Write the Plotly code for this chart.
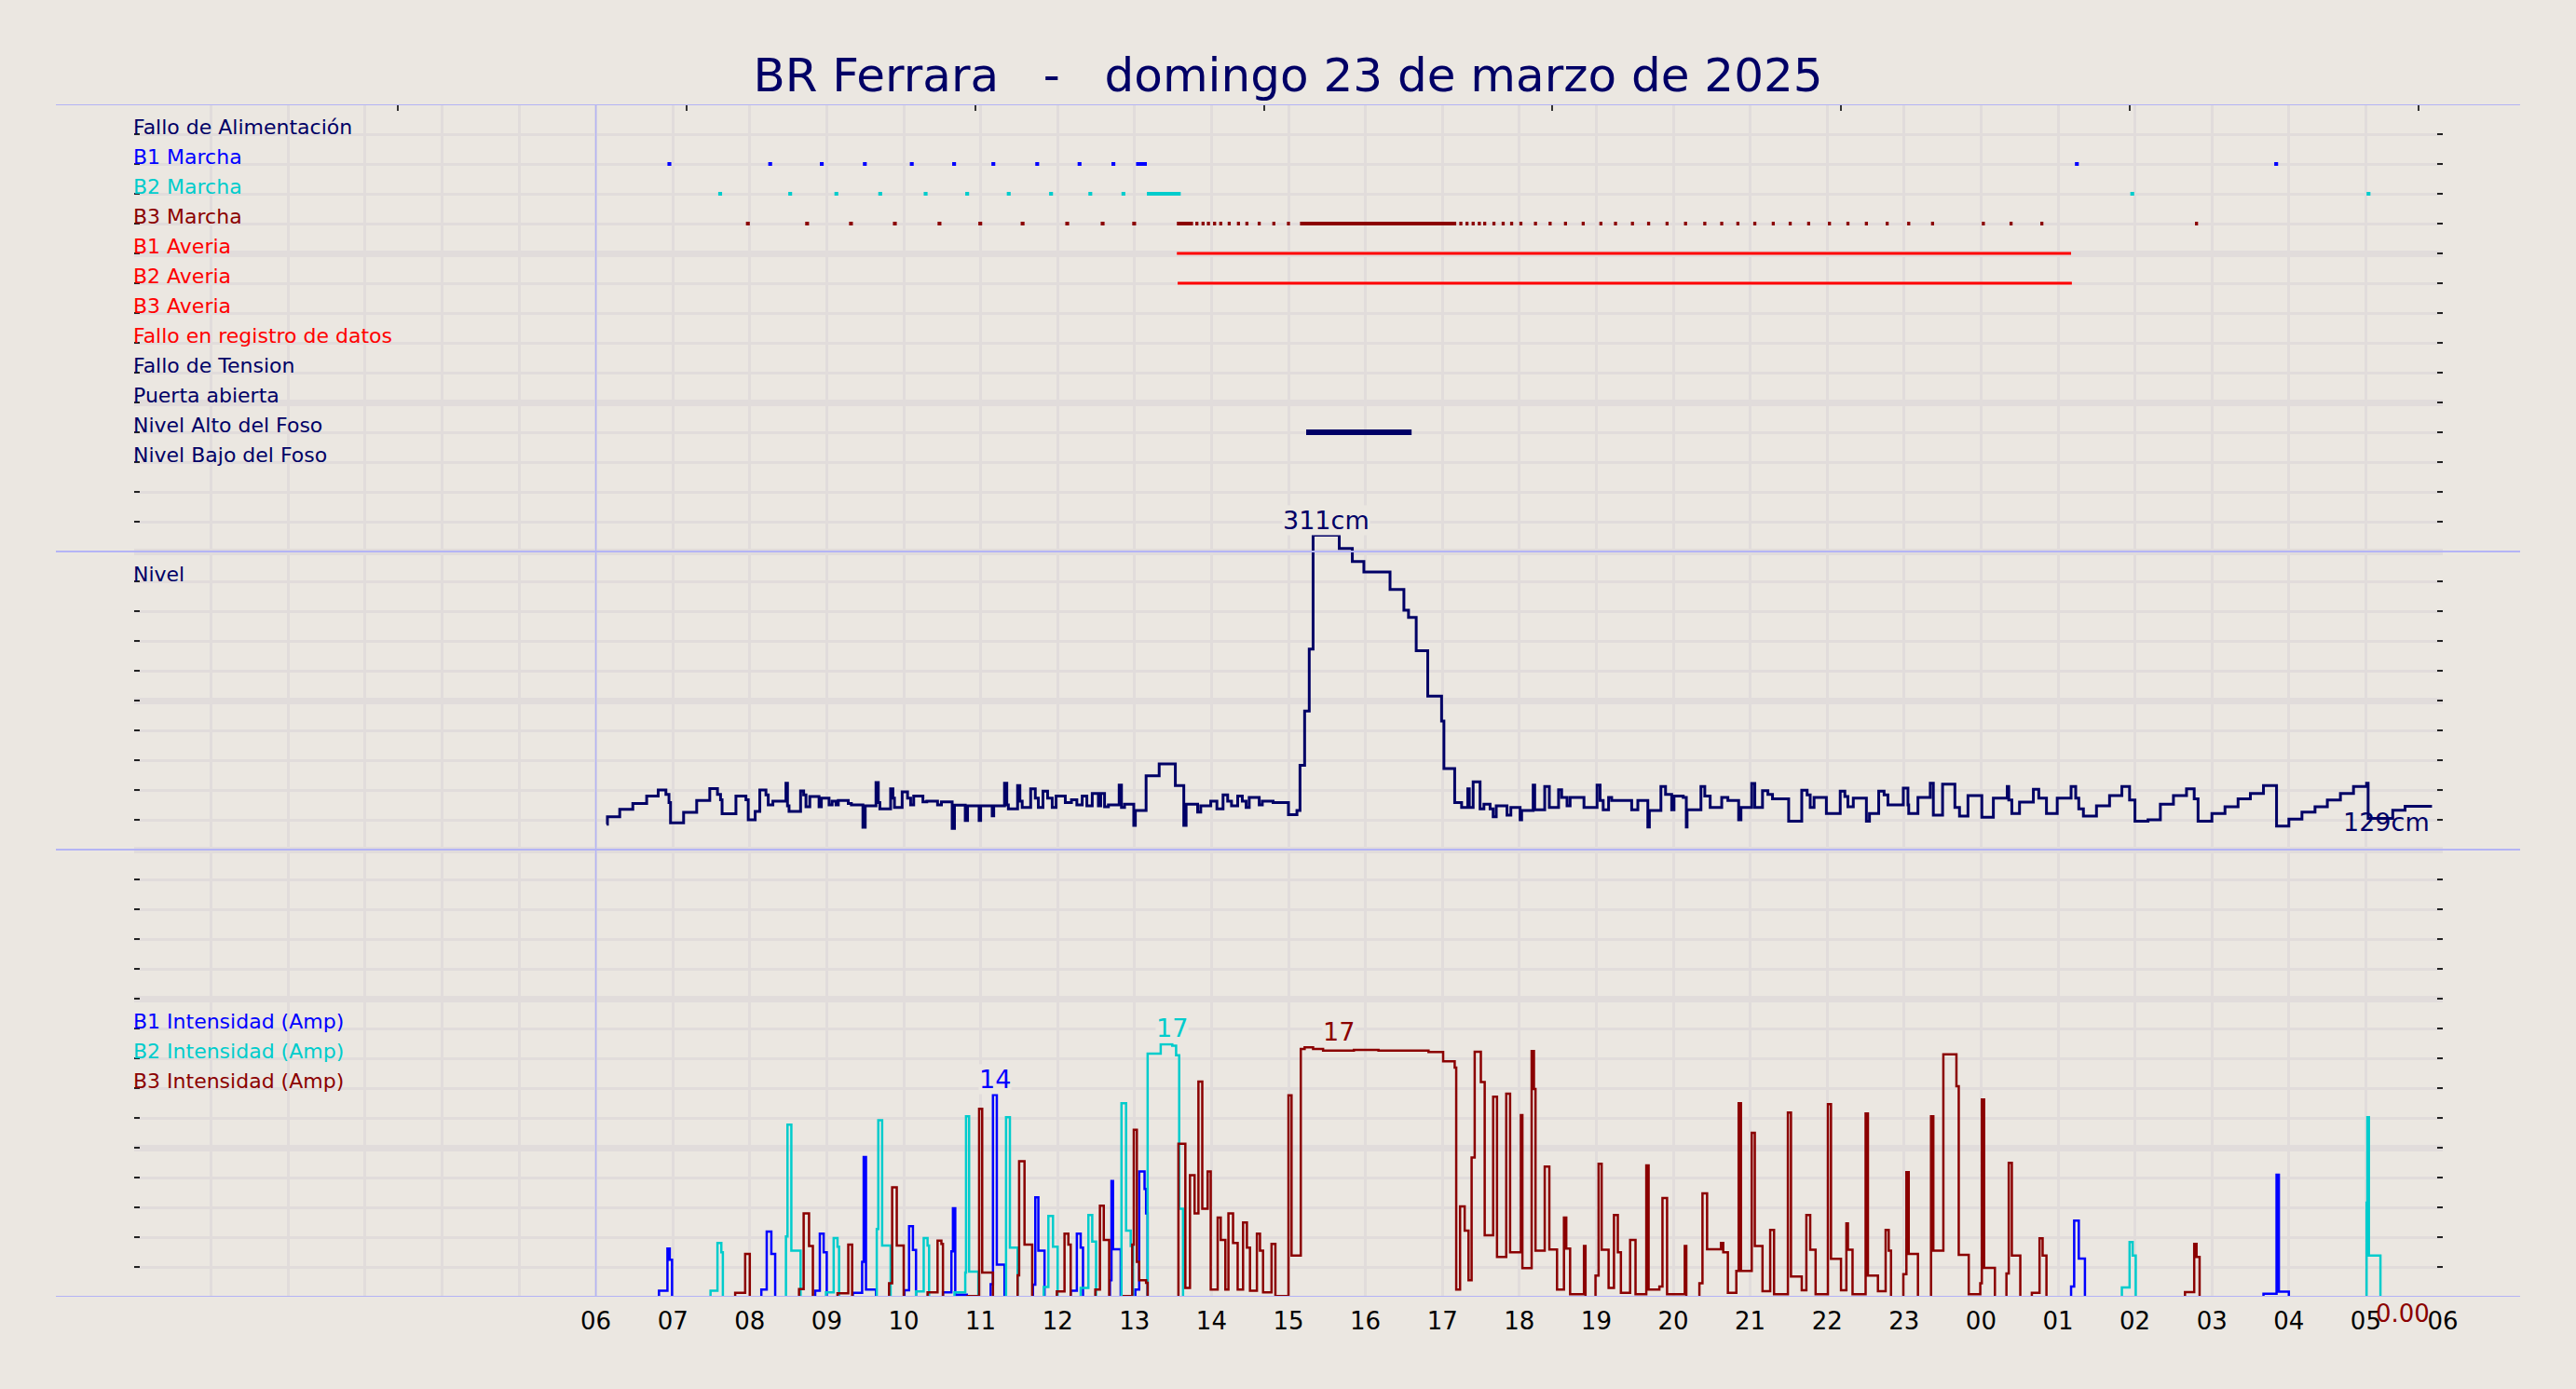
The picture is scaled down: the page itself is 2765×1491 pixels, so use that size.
import plotly.graph_objects as go

# ---------------- colours ----------------
BG = "#ebe7e1"
GRID = "#e1dcdb"
NAVY = "#000066"
BLUE = "#0000ff"
CYAN = "#00cccc"
DRED = "#8b0000"
RED = "#ff0000"
AXBLUE = "#b4b4f5"
FONT = "DejaVu Sans"

# ---------------- texts ----------------
TITLE = "BR Ferrara\u00a0\u00a0\u00a0-\u00a0\u00a0\u00a0domingo 23 de marzo de 2025"
HOUR_TICKS = list(range(6, 31))
HOUR_LABELS = ["06", "07", "08", "09", "10", "11", "12", "13", "14", "15", "16", "17",
               "18", "19", "20", "21", "22", "23", "00", "01", "02", "03", "04", "05", "06"]
TOP_TICKS = [3.43, 7.18, 10.93, 14.68, 18.43, 22.18, 25.93, 29.68]

STATUS_ROWS = ["Fallo de Alimentación", "B1 Marcha", "B2 Marcha", "B3 Marcha",
               "B1 Averia", "B2 Averia", "B3 Averia", "Fallo en registro de datos",
               "Fallo de Tension", "Puerta abierta", "Nivel Alto del Foso", "Nivel Bajo del Foso"]
STATUS_COLORS = [NAVY, BLUE, CYAN, DRED, RED, RED, RED, RED, NAVY, NAVY, NAVY, NAVY]

# ---------------- status intervals (hours since 00:00 of the day) ----------------
B1_MARCHA = [(6.93, 6.98), (8.24, 8.29), (8.91, 8.96), (9.47, 9.52), (10.08, 10.13),
             (10.63, 10.68), (11.14, 11.19), (11.71, 11.76), (12.26, 12.31), (12.70, 12.75),
             (13.02, 13.16), (25.22, 25.27), (27.81, 27.86)]
B2_MARCHA = [(7.59, 7.64), (8.50, 8.55), (9.10, 9.15), (9.67, 9.72), (10.26, 10.31),
             (10.80, 10.85), (11.34, 11.39), (11.89, 11.94), (12.40, 12.45), (12.83, 12.88),
             (13.16, 13.60), (25.94, 25.99), (29.01, 29.06)]
B3_MARCHA = [(7.95, 8.00), (8.72, 8.77), (9.29, 9.34), (9.86, 9.91), (10.44, 10.49),
             (10.97, 11.02), (11.52, 11.57), (12.10, 12.15), (12.56, 12.61), (12.97, 13.02),
             (13.55, 13.76), (13.79, 13.83), (13.87, 13.91), (13.94, 13.98), (14.02, 14.06),
             (14.10, 14.14), (14.21, 14.25), (14.33, 14.37), (14.44, 14.48), (14.60, 14.64),
             (14.79, 14.83), (14.98, 15.02), (15.15, 17.18), (17.22, 17.26), (17.30, 17.34),
             (17.38, 17.42), (17.46, 17.50), (17.53, 17.57), (17.65, 17.69), (17.77, 17.81),
             (17.88, 17.92), (18.00, 18.04), (18.19, 18.23), (18.38, 18.42), (18.58, 18.62),
             (18.81, 18.85), (19.04, 19.08), (19.23, 19.27), (19.45, 19.49), (19.66, 19.70),
             (19.90, 19.94), (20.14, 20.18), (20.39, 20.43), (20.61, 20.65), (20.82, 20.86),
             (21.04, 21.08), (21.28, 21.32), (21.50, 21.54), (21.74, 21.78), (22.01, 22.05),
             (22.25, 22.29), (22.49, 22.53), (22.76, 22.80), (23.04, 23.08), (23.35, 23.39),
             (24.01, 24.05), (24.37, 24.41), (24.77, 24.81), (26.78, 26.82)]
B1_AVERIA = [(13.55, 25.17)]
B2_AVERIA = [(13.56, 25.18)]
NIVEL_ALTO = [(15.23, 16.60)]

# ---------------- level (cm), step series ----------------
LEVEL = [
    (6.14, 117), (6.15, 122), (6.31, 127), (6.48, 131), (6.66, 136), (6.81, 140), (6.91, 137),
    (6.95, 131.5), (6.97, 118), (7.14, 125), (7.31, 133), (7.48, 141), (7.58, 137), (7.62, 133.5),
    (7.64, 124), (7.82, 136), (7.95, 133.5), (7.98, 120), (8.07, 125.6), (8.13, 140), (8.21, 136.7),
    (8.24, 130), (8.30, 132.5), (8.47, 144.6), (8.49, 129.4), (8.51, 125.6), (8.66, 139.4),
    (8.70, 136.7), (8.73, 128.8), (8.78, 135.6), (8.90, 128.8), (8.93, 134.6), (9.03, 130),
    (9.07, 132.5), (9.12, 130), (9.15, 133), (9.28, 131), (9.32, 130), (9.47, 115), (9.50, 129.4),
    (9.64, 145), (9.67, 131.5), (9.69, 127.3), (9.83, 140.8), (9.86, 134.6), (9.88, 128.3),
    (9.98, 138.8), (10.05, 134.6), (10.09, 130), (10.13, 136), (10.25, 132), (10.30, 132.5),
    (10.44, 130), (10.49, 132), (10.63, 114.2), (10.66, 129.8), (10.80, 119.6), (10.83, 129.4),
    (10.98, 119.6), (11.00, 129.4), (11.15, 122.7), (11.17, 129.4), (11.31, 144.6), (11.34, 130),
    (11.36, 127.3), (11.48, 142.9), (11.51, 132.5), (11.54, 128.3), (11.65, 140.8), (11.71, 134.6),
    (11.75, 128.3), (11.81, 139.2), (11.87, 134.6), (11.93, 128.3), (11.98, 136), (12.10, 131.5),
    (12.18, 133.5), (12.25, 130), (12.32, 136), (12.38, 129.4), (12.45, 137.7), (12.53, 129.4),
    (12.56, 137.7), (12.61, 128.8), (12.66, 130), (12.80, 143.3), (12.83, 128.3), (12.87, 130.4),
    (12.99, 116.3), (13.01, 126.3), (13.15, 149.6), (13.32, 157.5), (13.53, 142.9), (13.64, 116.3),
    (13.67, 130.4), (13.82, 125.2), (13.86, 129.4), (13.99, 132.5), (14.07, 127.3), (14.15, 136.7),
    (14.21, 132.5), (14.26, 129.4), (14.34, 136), (14.40, 132.5), (14.45, 128.3), (14.49, 135),
    (14.62, 130), (14.66, 132.5), (14.80, 131.5), (15.00, 123.5), (15.11, 126.3),
    (15.15, 156.5), (15.21, 193), (15.27, 234.6), (15.32, 311), (15.66, 302), (15.83, 293.3),
    (15.98, 286.3), (16.32, 274.6), (16.50, 260.6), (16.56, 255.8), (16.66, 233.5), (16.81, 202.9),
    (16.99, 186.3), (17.02, 154.4), (17.16, 131.5),
    (17.25, 128.3), (17.33, 140.8), (17.35, 128.3), (17.40, 145.4), (17.49, 127.3), (17.54, 130.4),
    (17.62, 127.3), (17.66, 122.1), (17.70, 129.4), (17.84, 123.1), (17.89, 128.3), (18.01, 120),
    (18.03, 126.3), (18.18, 143.3), (18.20, 126.7), (18.33, 142.3), (18.39, 128.3), (18.51, 140.2),
    (18.55, 135), (18.62, 129.4), (18.66, 135), (18.84, 128.3), (19.01, 143.3), (19.05, 132.9),
    (19.09, 126.7), (19.16, 135), (19.20, 132.9), (19.46, 126.7), (19.54, 132.9), (19.67, 115.2),
    (19.69, 126.3), (19.84, 142.3), (19.90, 137.1), (19.98, 126.7), (20.01, 136), (20.13, 135),
    (20.17, 115.2), (20.18, 126.7), (20.36, 142.3), (20.41, 136), (20.48, 128.3), (20.63, 135),
    (20.71, 132.9), (20.85, 120), (20.88, 128.3), (21.02, 144.4), (21.06, 128.3), (21.16, 139.6),
    (21.23, 137.1), (21.29, 134), (21.50, 119),
    (21.67, 139.8), (21.74, 136.7), (21.78, 128.3), (21.83, 135), (21.99, 124.2), (22.17, 139.2),
    (22.23, 135.6), (22.27, 128.8), (22.34, 134.6), (22.51, 119), (22.55, 124.2), (22.67, 139.2),
    (22.74, 136.7), (22.79, 130), (22.99, 141.3), (23.05, 130), (23.06, 124.2), (23.18, 135),
    (23.34, 144.6), (23.38, 123.1), (23.50, 143.9), (23.66, 128.3), (23.72, 122.5), (23.83, 136.3),
    (24.01, 121.7), (24.16, 134.6), (24.34, 142.3), (24.36, 133.3), (24.40, 124.2), (24.50, 131.9),
    (24.68, 140.4), (24.75, 134.6), (24.85, 124.2), (24.99, 134.6), (25.17, 142.3), (25.23, 134.6),
    (25.27, 127.3), (25.33, 122.5), (25.50, 129.4), (25.67, 136.3), (25.83, 142.3), (25.93, 133.3),
    (26.00, 119), (26.17, 120), (26.33, 130.4), (26.50, 136.3), (26.67, 140.8), (26.77, 134),
    (26.82, 119), (27.00, 124.2), (27.17, 128.8), (27.34, 134), (27.50, 137.7), (27.67, 142.9),
    (27.84, 115.8), (28.00, 120.4), (28.17, 125.2), (28.34, 128.8), (28.50, 133.3), (28.67, 137.7),
    (28.84, 142.3), (29.01, 144.6), (29.03, 121), (29.35, 126.4), (29.51, 129), (29.86, 129)]

# ---------------- pump currents (A), step series ----------------
B1_AMP = [
    (6.12, 0), (6.82, 0.46), (6.93, 3.3), (6.96, 2.55), (6.99, 0), (8.15, 0.54), (8.22, 4.44),
    (8.28, 2.94), (8.33, 0), (8.85, 0.46), (8.91, 4.29), (8.96, 3.04), (9.00, 0), (9.34, 0.33),
    (9.46, 2.4), (9.48, 9.44), (9.51, 0.54), (9.64, 0), (10.01, 0.5), (10.07, 4.79), (10.12, 3.2),
    (10.16, 0), (10.51, 0.35), (10.62, 3.1), (10.64, 6.0), (10.67, 0.2), (10.82, 0), (11.13, 0.9),
    (11.16, 13.6), (11.21, 2.21), (11.31, 0), (11.68, 0.88), (11.71, 6.73), (11.75, 3.15),
    (11.83, 0), (12.17, 0.46), (12.25, 4.29), (12.30, 3.35), (12.33, 0), (12.68, 1.17),
    (12.70, 7.83), (12.72, 3.25), (12.82, 0), (13.01, 0.54), (13.06, 8.46), (13.13, 7.3),
    (13.15, 5.65), (13.17, 0), (25.17, 0.75), (25.21, 5.17), (25.27, 2.63), (25.35, 0),
    (27.67, 0.27), (27.84, 8.25), (27.87, 0.4), (28.00, 0), (29.86, 0)]
B2_AMP = [
    (6.12, 0), (7.49, 0.46), (7.58, 3.67), (7.63, 3.04), (7.65, 0), (8.47, 4.1), (8.49, 11.6),
    (8.54, 3.15), (8.66, 0), (8.99, 0.35), (9.09, 4.0), (9.14, 3.42), (9.16, 0), (9.65, 4.6),
    (9.67, 11.9), (9.72, 3.5), (9.83, 0), (10.16, 0.42), (10.26, 4.0), (10.31, 3.5), (10.33, 0),
    (10.66, 0.35), (10.80, 1.69), (10.81, 12.17), (10.85, 1.75), (10.97, 0), (11.33, 12.1),
    (11.38, 3.35), (11.48, 0), (11.82, 0.71), (11.88, 5.48), (11.94, 3.42), (12.00, 0),
    (12.30, 0.65), (12.40, 5.54), (12.45, 3.77), (12.50, 0), (12.83, 13.04), (12.89, 4.5),
    (12.95, 3.46), (12.98, 0), (13.17, 16.38), (13.34, 17.0), (13.49, 16.9), (13.54, 16.27),
    (13.58, 5.96), (13.63, 0), (25.83, 0.69), (25.93, 3.73), (25.97, 2.83), (26.01, 0),
    (29.01, 6.38), (29.02, 12.1), (29.04, 2.83), (29.19, 0), (29.86, 0)]
B3_AMP = [
    (6.12, 0), (7.81, 0.33), (7.94, 2.94), (8.00, 0), (8.64, 0.58), (8.70, 5.65), (8.77, 3.46),
    (8.82, 0), (9.14, 0.3), (9.28, 3.56), (9.33, 0), (9.81, 0.96), (9.85, 7.4), (9.91, 3.5),
    (10.00, 0), (10.31, 0.35), (10.44, 3.83), (10.49, 3.6), (10.51, 0), (10.83, 0.1),
    (10.98, 12.67), (11.02, 1.69), (11.16, 0), (11.48, 1.5), (11.50, 9.15), (11.57, 3.56),
    (11.67, 0), (11.99, 0.42), (12.09, 4.29), (12.14, 3.56), (12.17, 0), (12.49, 0.54),
    (12.55, 6.17), (12.60, 3.88), (12.67, 0), (12.86, 0.1), (12.97, 3.56), (12.99, 11.27),
    (13.03, 2.4), (13.06, 1.17), (13.15, 1.0), (13.17, 0), (13.57, 10.33), (13.66, 0.65),
    (13.72, 8.21), (13.78, 5.65), (13.83, 14.5), (13.88, 5.96), (13.95, 8.46), (13.99, 0.54),
    (14.08, 5.38), (14.12, 3.88), (14.18, 0.54), (14.22, 5.65), (14.28, 3.67), (14.34, 0.54),
    (14.41, 5.04), (14.46, 3.35), (14.50, 0.46), (14.59, 4.29), (14.63, 3.15), (14.67, 0.35),
    (14.78, 3.6), (14.83, 0.1), (15.00, 13.58), (15.04, 2.83), (15.16, 16.69), (15.21, 16.8),
    (15.32, 16.69), (15.45, 16.58), (15.85, 16.62), (16.17, 16.58), (16.82, 16.48),
    (17.01, 15.85), (17.16, 15.44), (17.18, 0.54), (17.23, 6.13), (17.29, 4.5), (17.34, 1.17),
    (17.38, 9.4), (17.42, 16.5), (17.50, 14.46), (17.55, 4.19), (17.66, 13.48), (17.71, 2.73),
    (17.83, 13.69), (17.88, 3.04), (18.02, 12.25), (18.04, 1.98), (18.16, 16.54), (18.19, 14.0),
    (18.21, 3.15), (18.33, 8.79), (18.39, 3.23), (18.49, 0.54), (18.58, 5.38), (18.61, 3.29),
    (18.66, 0.23), (18.84, 3.46), (18.86, 0), (18.99, 1.48), (19.03, 8.98), (19.07, 3.21),
    (19.16, 0.65), (19.23, 5.54), (19.28, 3.04), (19.32, 0.33), (19.44, 3.88), (19.51, 0.23),
    (19.65, 8.88), (19.68, 0.54), (19.82, 0.75), (19.86, 6.69), (19.92, 0.23), (20.15, 3.46),
    (20.17, 0), (20.34, 0.96), (20.38, 7.0), (20.44, 3.25), (20.62, 3.67), (20.65, 3.04),
    (20.71, 0.33), (20.82, 1.79), (20.85, 13.04), (20.88, 1.79), (21.02, 11.06), (21.06, 3.46),
    (21.16, 0.44), (21.26, 4.54), (21.31, 0.23), (21.49, 12.42), (21.53, 1.42), (21.67, 0.5),
    (21.73, 5.54), (21.78, 3.21), (21.85, 0.23), (22.01, 12.98), (22.05, 2.6), (22.18, 0.5),
    (22.25, 4.98), (22.27, 3.21), (22.33, 0.23), (22.50, 12.35), (22.53, 1.48), (22.66, 0.44),
    (22.76, 4.54), (22.80, 3.15), (22.83, 0), (22.99, 1.58), (23.03, 8.42), (23.06, 2.94),
    (23.18, 0), (23.35, 12.17), (23.38, 3.15), (23.51, 16.33), (23.68, 14.19), (23.71, 2.88),
    (23.84, 0.23), (23.99, 0.96), (24.01, 13.29), (24.04, 2.0), (24.18, 0), (24.33, 1.63),
    (24.36, 9.04), (24.40, 2.83), (24.51, 0), (24.66, 0.33), (24.76, 3.98), (24.80, 2.83),
    (24.85, 0), (26.65, 0.38), (26.77, 3.6), (26.80, 2.73), (26.84, 0), (29.86, 0)]

# ---------------- layout geometry (grid units: 40 rows of equal height) ----------------
ROW_Y = {name: 39 - i for i, name in enumerate(STATUS_ROWS)}
NIVEL_LABEL_Y = 24
AMP_LABEL_Y = {"B1": 9, "B2": 8, "B3": 7}
PANEL_LINES = [40, 25, 15, 0]

fig = go.Figure()


def seg_trace(intervals, yrow, color, width):
    xs, ys = [], []
    for s, e in intervals:
        xs += [s, e, None]
        ys += [yrow, yrow, None]
    return go.Scatter(x=xs, y=ys, mode="lines", line=dict(color=color, width=width),
                      xaxis="x", yaxis="y", hoverinfo="skip", showlegend=False)


fig.add_trace(seg_trace(B1_MARCHA, ROW_Y["B1 Marcha"], BLUE, 4))
fig.add_trace(seg_trace(B2_MARCHA, ROW_Y["B2 Marcha"], CYAN, 4))
fig.add_trace(seg_trace(B3_MARCHA, ROW_Y["B3 Marcha"], DRED, 4))
fig.add_trace(seg_trace(B1_AVERIA, ROW_Y["B1 Averia"], RED, 3))
fig.add_trace(seg_trace(B2_AVERIA, ROW_Y["B2 Averia"], RED, 3))
fig.add_trace(seg_trace(NIVEL_ALTO, ROW_Y["Nivel Alto del Foso"], NAVY, 6))

# level line
fig.add_trace(go.Scatter(x=[p[0] for p in LEVEL], y=[p[1] for p in LEVEL], mode="lines",
                         line=dict(color=NAVY, width=3, shape="hv"), xaxis="x", yaxis="y2",
                         hoverinfo="skip", showlegend=False))

# currents
for series, color in ((B1_AMP, BLUE), (B2_AMP, CYAN), (B3_AMP, DRED)):
    fig.add_trace(go.Scatter(x=[p[0] for p in series], y=[p[1] for p in series], mode="lines",
                             line=dict(color=color, width=2.5, shape="hv"), xaxis="x", yaxis="y3",
                             hoverinfo="skip", showlegend=False))

# invisible trace to instantiate the top tick axis
fig.add_trace(go.Scatter(x=[None], y=[None], xaxis="x2", yaxis="y", showlegend=False,
                         hoverinfo="skip"))

annotations = []
for name, color in zip(STATUS_ROWS, STATUS_COLORS):
    annotations.append(dict(x=0, y=ROW_Y[name], xref="x", yref="y", text=name, showarrow=False,
                            xanchor="left", yanchor="middle", yshift=8, xshift=-3,
                            font=dict(family=FONT, size=22, color=color)))
annotations.append(dict(x=0, y=NIVEL_LABEL_Y, xref="x", yref="y", text="Nivel", showarrow=False,
                        xanchor="left", yanchor="middle", yshift=8, xshift=-3,
                        font=dict(family=FONT, size=22, color=NAVY)))
for key, color in (("B1", BLUE), ("B2", CYAN), ("B3", DRED)):
    annotations.append(dict(x=0, y=AMP_LABEL_Y[key], xref="x", yref="y",
                            text=f"{key} Intensidad (Amp)", showarrow=False,
                            xanchor="left", yanchor="middle", yshift=8, xshift=-3,
                            font=dict(family=FONT, size=22, color=color)))

lvl_max = max(p[1] for p in LEVEL)
b1_max = max(p[1] for p in B1_AMP)
b2_max = max(p[1] for p in B2_AMP)
b3_max = max(p[1] for p in B3_AMP)

annotations += [
    dict(x=15.49, y=lvl_max, xref="x", yref="y2", text=f"{lvl_max:.0f}cm", showarrow=False,
         yanchor="middle", yshift=16, bgcolor=BG, borderpad=0,
         font=dict(family=FONT, size=27, color=NAVY)),
    dict(x=LEVEL[-1][0], y=LEVEL[-1][1], xref="x", yref="y2", text=f"{LEVEL[-1][1]:.0f}cm",
         showarrow=False, xanchor="right", yanchor="middle", yshift=-17,
         font=dict(family=FONT, size=27, color=NAVY)),
    dict(x=11.19, y=b1_max, xref="x", yref="y3", text=f"{b1_max:.0f}", showarrow=False,
         yanchor="middle", yshift=17, bgcolor=BG, borderpad=0,
         font=dict(family=FONT, size=27, color=BLUE)),
    dict(x=13.49, y=b2_max, xref="x", yref="y3", text=f"{b2_max:.0f}", showarrow=False,
         yanchor="middle", yshift=17, bgcolor=BG, borderpad=0,
         font=dict(family=FONT, size=27, color=CYAN)),
    dict(x=15.65, y=b3_max, xref="x", yref="y3", text=f"{b3_max:.0f}", showarrow=False,
         yanchor="middle", yshift=17, bgcolor=BG, borderpad=0,
         font=dict(family=FONT, size=27, color=DRED)),
    # last B3 value, written just under the axis baseline (grid axis y=0 is the baseline)
    dict(x=B3_AMP[-1][0], y=0, xref="x", yref="y", text=f"{B3_AMP[-1][1]:.2f}",
         showarrow=False, xanchor="right", yanchor="middle", yshift=-18,
         font=dict(family=FONT, size=26, color=DRED)),
]

shapes = []
for yv in PANEL_LINES:
    shapes.append(dict(type="line", xref="paper", yref="y", x0=-0.0339, x1=1.0335, y0=yv, y1=yv,
                       line=dict(color=AXBLUE, width=2), layer="above"))
shapes.append(dict(type="line", xref="x", yref="y", x0=6, x1=6, y0=0, y1=40,
                   line=dict(color=AXBLUE, width=1.5), layer="above"))

fig.update_layout(
    width=2765, height=1491, autosize=False,
    margin=dict(l=144, r=143, t=112, b=99),
    paper_bgcolor=BG, plot_bgcolor=BG,
    showlegend=False, hovermode=False,
    title=dict(text=TITLE, x=0.5, xanchor="center", y=1 - 80 / 1491, yanchor="middle",
               font=dict(family=FONT, size=50, color=NAVY)),
    font=dict(family=FONT),
    xaxis=dict(domain=[0, 1], range=[0, 30], anchor="y",
               tickmode="array", tickvals=list(range(0, 31)),
               ticktext=[""] * 6 + HOUR_LABELS,
               showgrid=True, gridcolor=GRID, gridwidth=3, zeroline=False, showline=False,
               ticks="", ticklabelstandoff=8,
               tickfont=dict(family=FONT, size=26, color="black")),
    xaxis2=dict(overlaying="x", anchor="y", side="top", range=[0, 30],
                tickmode="array", tickvals=TOP_TICKS, ticks="inside", ticklen=7,
                tickwidth=1.5, tickcolor="#333333", showticklabels=False,
                showgrid=False, zeroline=False, showline=False),
    yaxis=dict(domain=[0, 1], range=[0, 40], tickmode="array",
               tickvals=[0, 5, 10, 15, 20, 25, 30, 35, 40],
               showgrid=True, gridcolor=GRID, gridwidth=7, zeroline=False, showline=False,
               showticklabels=False, ticks="inside", ticklen=6, tickwidth=2,
               tickcolor="#222222", mirror="ticks",
               minor=dict(dtick=1, tick0=0, showgrid=True, gridcolor=GRID, gridwidth=3,
                          ticks="inside", ticklen=6, tickwidth=2, tickcolor="#222222")),
    yaxis2=dict(overlaying="y", range=[-200, 600], visible=False),
    yaxis3=dict(overlaying="y", range=[0.06, 80.06], visible=False),
    annotations=annotations,
    shapes=shapes,
)

fig.write_html("out.html",
               config={"displayModeBar": False},
               post_script="document.body.style.margin='0';document.body.style.overflow='hidden';"
                           f"document.body.style.background='{BG}';")
